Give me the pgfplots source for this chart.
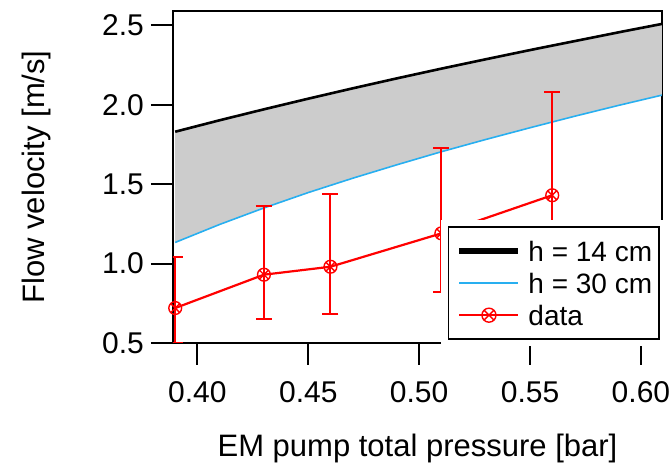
\documentclass[border=0pt]{standalone}
\usepackage{pgfplots}
\pgfplotsset{compat=1.18}
\usepackage{pgfplotstable}
\usepgfplotslibrary{fillbetween}
\usetikzlibrary{calc}
\usepackage{fontspec}
\setmainfont{Liberation Sans}

\definecolor{hblue}{RGB}{40,175,240}
\definecolor{bandgray}{RGB}{204,204,204}

\pgfplotsset{
  longleg/.style={legend image code/.code={%
    \draw[mark repeat=2, mark phase=2, ##1] plot coordinates {(2.5pt,0pt) (17.25pt,0pt) (32pt,0pt)};}},
}

% model curves
\pgfplotstableread{
p    v14   v30
0.39 1.830 1.133
0.41 1.902 1.246
0.43 1.971 1.350
0.45 2.038 1.447
0.47 2.103 1.537
0.49 2.166 1.622
0.51 2.227 1.704
0.53 2.286 1.781
0.55 2.344 1.855
0.57 2.400 1.927
0.59 2.456 1.996
0.61 2.510 2.062
}\model

% measurements with asymmetric error bars
\pgfplotstableread{
p    v    ep   em
0.39 0.72 0.32 0.22
0.43 0.93 0.43 0.28
0.46 0.98 0.46 0.30
0.51 1.19 0.54 0.37
0.56 1.43 0.65 0.44
}\meas

\begin{document}
\begin{tikzpicture}
\begin{axis}[
  set layers,
  scale only axis,
  width=244.5pt, height=166pt,
  xmin=0.389, xmax=0.6095,
  ymin=0.5, ymax=2.59,
  xtick={0.40,0.45,0.50,0.55,0.60},
  ytick={0.5,1.0,1.5,2.0,2.5},
  xticklabel style={/pgf/number format/fixed, /pgf/number format/fixed zerofill, /pgf/number format/precision=2, yshift=-4.5pt},
  yticklabel style={/pgf/number format/fixed, /pgf/number format/fixed zerofill, /pgf/number format/precision=1},
  /pgf/number format/assume math mode=true,
  tick label style={font=\fontsize{15}{18}\selectfont},
  label style={font=\fontsize{15.5}{18}\selectfont},
  xlabel={EM pump total pressure [bar]},
  ylabel={Flow velocity [m/s]},
  ylabel shift=19pt,
  xlabel shift=9pt,
  axis line style={line width=1pt},
  major tick style={line width=1pt, black},
  tick align=outside,
  xtick pos=bottom, ytick pos=left,
  major tick length=11pt,
  legend style={at={(1,0)}, anchor=south east, xshift=-1pt, yshift=1.5pt,
    draw=black, line width=0.8pt, fill=white,
    preaction={draw=white, line width=7pt},
    font=\fontsize{14}{16}\selectfont, cells={anchor=west},
    inner xsep=2pt, inner ysep=4pt, row sep=0pt,
    nodes={text height=10pt, text depth=0pt, inner ysep=3pt, inner xsep=1.5pt}},
]
\addplot[black, line width=1.3pt, name path=top, forget plot] table[x=p, y=v14] {\model};
\addplot[hblue, line width=0.8pt, name path=bot, forget plot] table[x=p, y=v30] {\model};
\addplot[fill=bandgray, draw=none, forget plot] fill between[of=top and bot];
\addplot[red, line width=1.1pt, mark=otimes, mark size=3.2pt, mark options={line width=0.7pt},
  forget plot,
  error bars/.cd, y dir=both, y explicit,
  error bar style={line width=1pt},
  error mark options={rotate=90, mark size=4pt, line width=1pt, red}]
  table[x=p, y=v, y error plus=ep, y error minus=em] {\meas};

\addlegendimage{longleg, black, line width=2.8pt}
\addlegendentry{h = 14 cm}
\addlegendimage{longleg, hblue, line width=0.8pt}
\addlegendentry{h = 30 cm}
\addlegendimage{longleg, red, line width=1pt, mark=otimes, mark size=3.5pt, mark options={line width=0.7pt}}
\addlegendentry{data}

\coordinate (bl) at (rel axis cs:0,0);
\coordinate (tr) at (rel axis cs:1,1);
\end{axis}
\pgfresetboundingbox
\useasboundingbox ($(bl)+(-86.5pt,-60pt)$) rectangle ($(tr)+(4.5pt,5.5pt)$);
\end{tikzpicture}
\end{document}
